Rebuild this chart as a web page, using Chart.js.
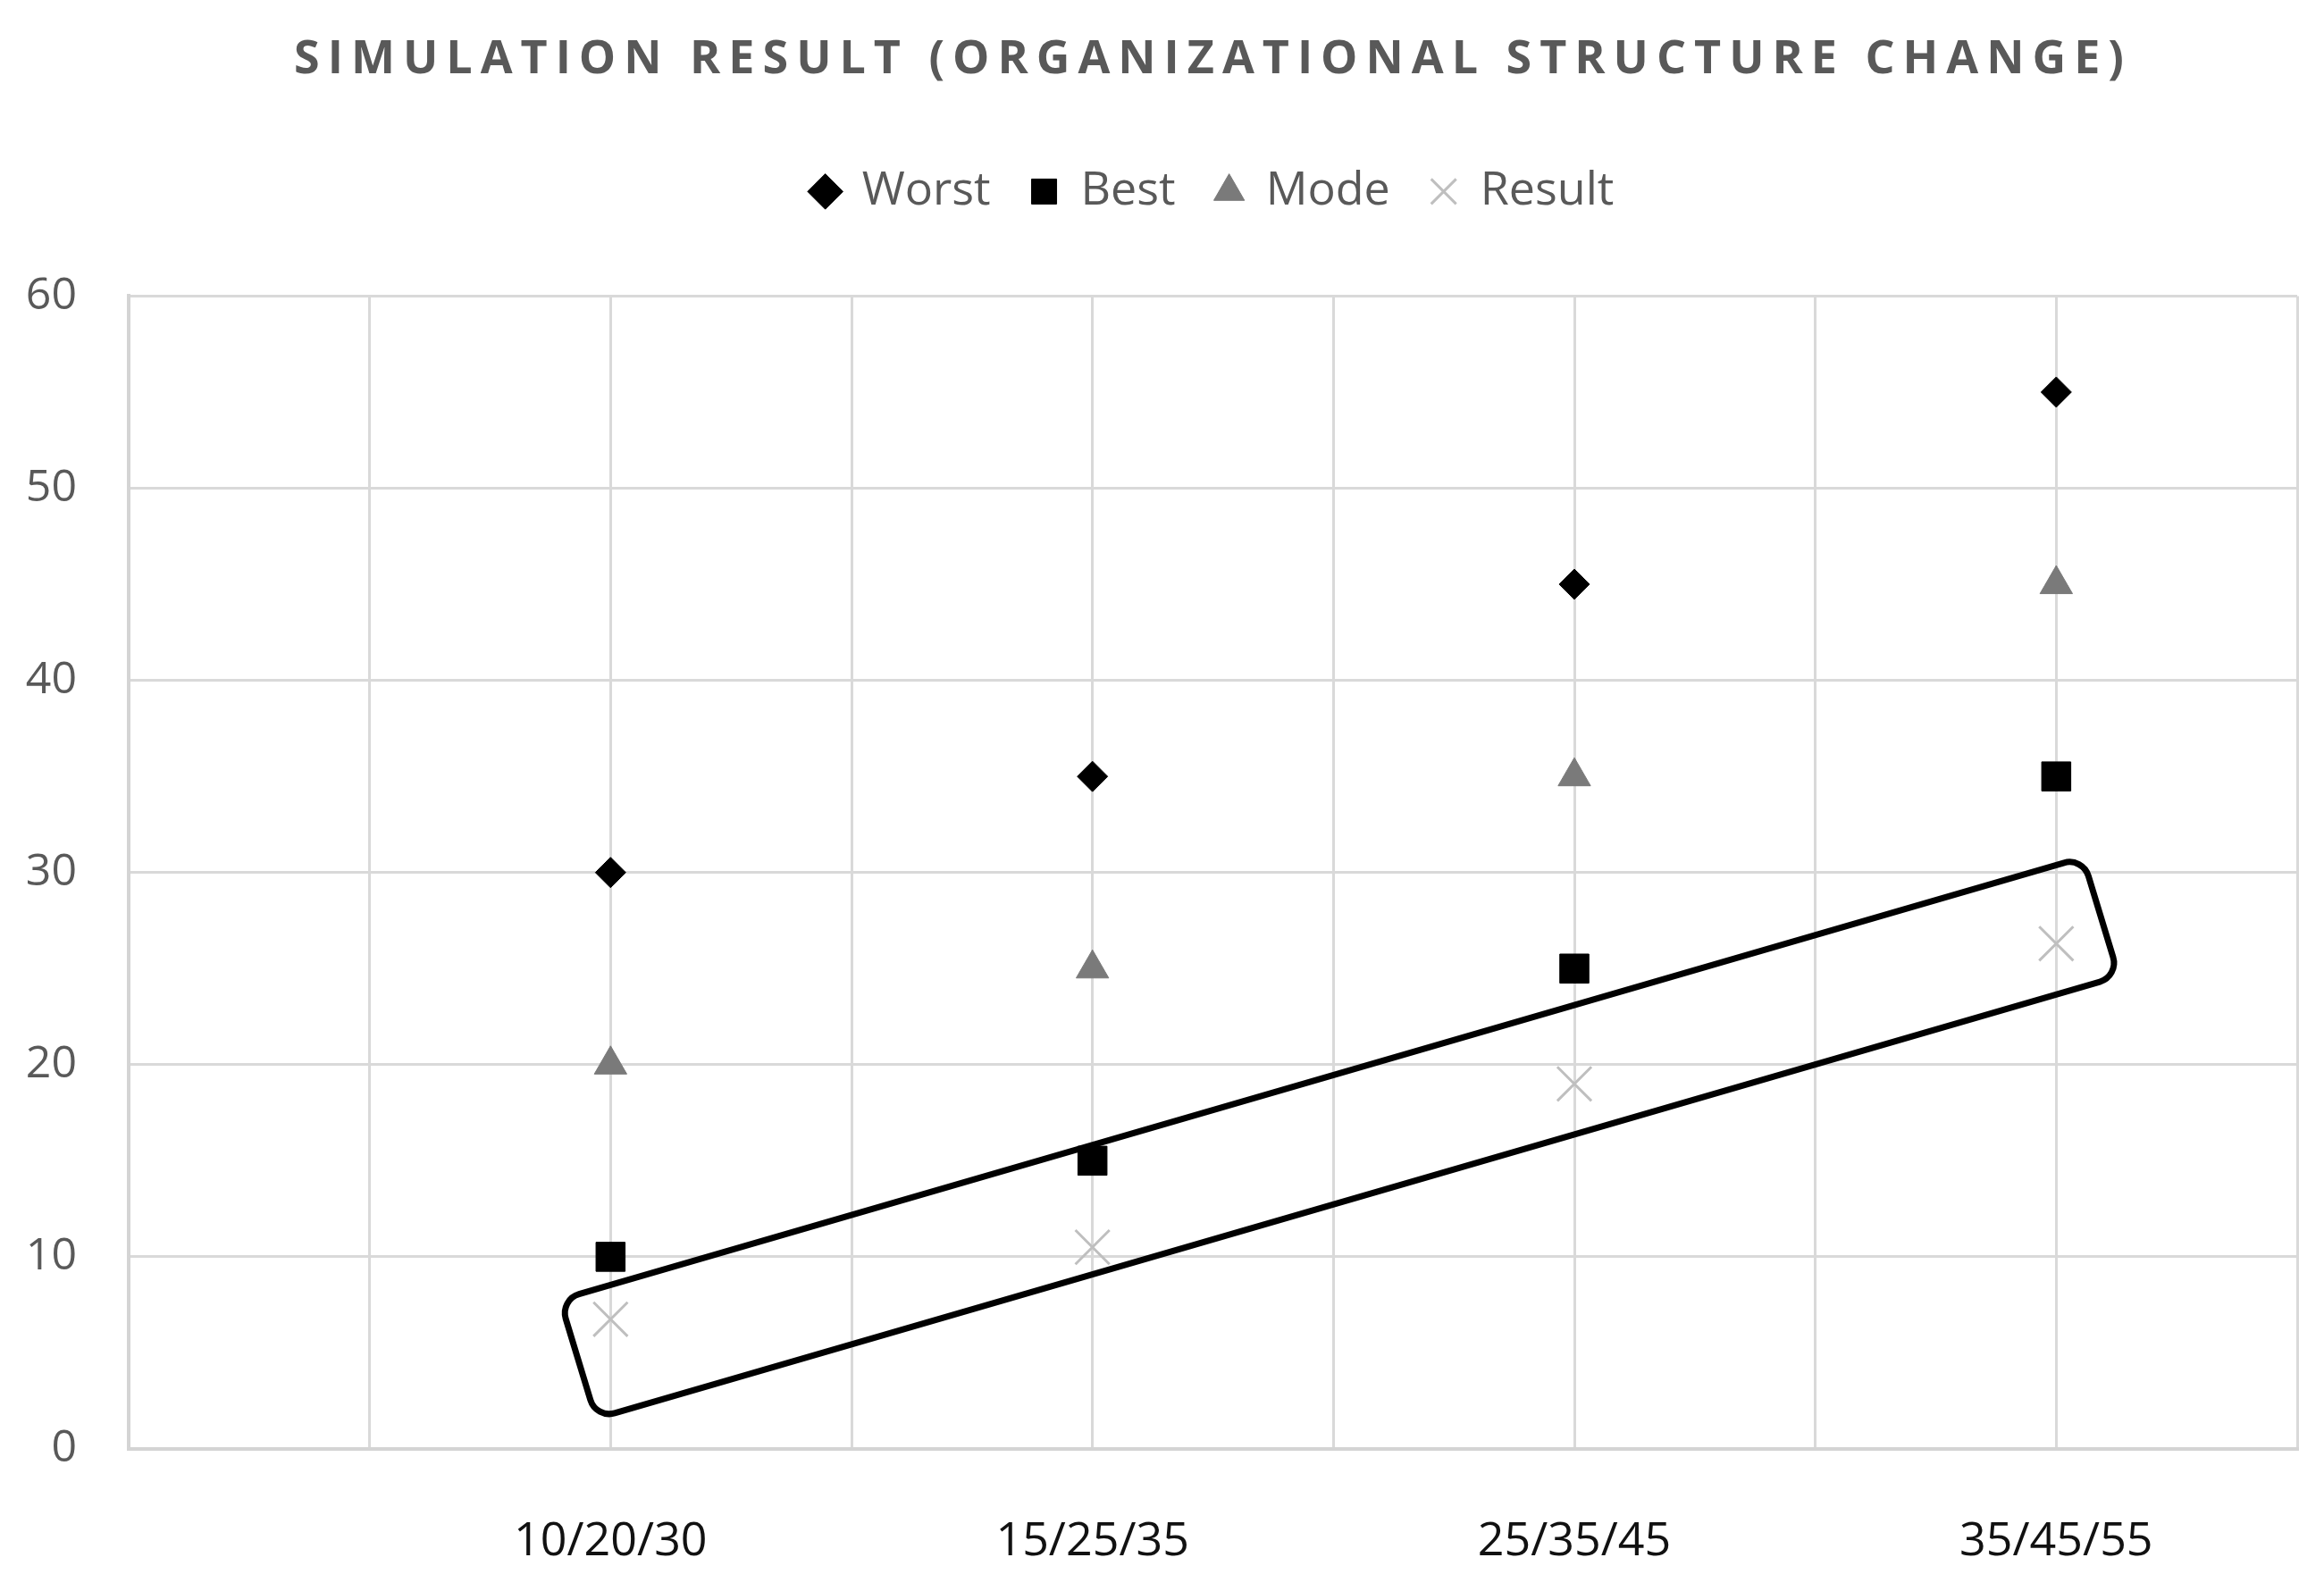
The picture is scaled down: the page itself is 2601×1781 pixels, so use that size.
<!DOCTYPE html>
<html>
<head>
<meta charset="utf-8">
<title>Simulation Result</title>
<script src="https://cdn.jsdelivr.net/npm/chart.js@4.4.1/dist/chart.umd.min.js"></script>
<style>
  html, body { margin: 0; padding: 0; background: #fff; }
  canvas { display: block; }
</style>
</head>
<body>
<canvas id="chart" width="2601" height="1781"></canvas>
<script>
const chartTitle = 'SIMULATION RESULT (ORGANIZATIONAL STRUCTURE CHANGE)';
const categories = ['10/20/30', '15/25/35', '25/35/45', '35/45/55'];
const categoryX = [2, 4, 6, 8];
const worst = [30, 35, 45, 55];
const best = [10, 15, 25, 35];
const mode = [20, 25, 35, 45];
const result = [6.75, 10.5, 19.0, 26.3];
const yMin = 0, yMax = 60, yStep = 10;
const xMin = 0, xMax = 9;

// corners of the highlight box around the Result points (data units)
const boxX = [1.79, 1.94, 8.26, 8.11];
const boxY = [7.77, 1.58, 24.6, 30.79];

const toPoints = ys => ys.map((y, i) => ({ x: categoryX[i], y }));
const font = 'Open Sans';

// title in Excel style is letter spaced
const spacedTitle = {
  id: 'spacedTitle',
  afterInit(chart) {
    const block = chart.titleBlock;
    if (!block) return;
    const draw = block.draw.bind(block);
    block.draw = function () {
      chart.ctx.save();
      chart.ctx.letterSpacing = '9px';
      draw();
      chart.ctx.restore();
    };
  }
};

const highlightBox = {
  id: 'highlightBox',
  afterDatasetsDraw(chart) {
    const { ctx, scales: { x, y } } = chart;
    const pts = boxX.map((v, i) => [x.getPixelForValue(v), y.getPixelForValue(boxY[i])]);
    const n = pts.length;
    ctx.save();
    ctx.beginPath();
    ctx.moveTo((pts[n - 1][0] + pts[0][0]) / 2, (pts[n - 1][1] + pts[0][1]) / 2);
    for (let i = 0; i < n; i++) {
      const p = pts[i], q = pts[(i + 1) % n];
      ctx.arcTo(p[0], p[1], q[0], q[1], 22);
    }
    ctx.closePath();
    ctx.lineWidth = 7;
    ctx.strokeStyle = '#000';
    ctx.lineJoin = 'round';
    ctx.stroke();
    ctx.restore();
  }
};

const grid = { color: '#d9d9d9', lineWidth: 3, drawTicks: false };
const border = { color: '#d4d4d4', width: 4 };

new Chart(document.getElementById('chart'), {
  type: 'scatter',
  data: {
    datasets: [
      { label: 'Worst', data: toPoints(worst), pointStyle: 'rectRot', pointRadius: 17,
        backgroundColor: '#000', borderColor: '#000', borderWidth: 1 },
      { label: 'Best', data: toPoints(best), pointStyle: 'rect', pointRadius: 23,
        backgroundColor: '#000', borderColor: '#000', borderWidth: 1 },
      { label: 'Mode', data: toPoints(mode), pointStyle: 'triangle', pointRadius: 21,
        backgroundColor: '#7a7a7a', borderColor: '#7a7a7a', borderWidth: 1 },
      { label: 'Result', data: toPoints(result), pointStyle: 'crossRot', pointRadius: 27,
        backgroundColor: '#bfbfbf', borderColor: '#bfbfbf', borderWidth: 3 }
    ]
  },
  options: {
    responsive: false,
    animation: false,
    layout: { padding: { left: 0, right: 28, top: 0, bottom: 0 } },
    plugins: {
      title: {
        display: true, fullSize: false, text: chartTitle, color: '#595959',
        font: { family: font, size: 52, weight: '700' },
        padding: { top: 36, bottom: 45 }
      },
      legend: {
        fullSize: false,
        labels: {
          usePointStyle: true, boxWidth: 30, boxHeight: 28, padding: 45,
          color: '#595959', font: { family: font, size: 52 }
        }
      },
      // spacer between legend and plot
      subtitle: {
        display: true, text: '', weight: 500,
        font: { size: 1, lineHeight: 1 }, padding: { top: 80, bottom: 0 }
      },
      tooltip: { enabled: false }
    },
    scales: {
      x: {
        type: 'linear', min: xMin, max: xMax,
        afterFit: s => { s.height = 159; s.paddingLeft = 0; s.paddingRight = 0; },
        ticks: {
          stepSize: 1, autoSkip: false, maxRotation: 0, padding: 73,
          color: '#111', font: { family: font, size: 52 },
          callback: v => { const i = categoryX.indexOf(v); return i < 0 ? '' : categories[i]; }
        },
        grid, border
      },
      y: {
        min: yMin, max: yMax,
        afterFit: s => { s.width = 144; },
        ticks: { stepSize: yStep, padding: 58, color: '#595959', font: { family: font, size: 50 } },
        grid, border
      }
    }
  },
  plugins: [spacedTitle, highlightBox]
});
</script>
</body>
</html>
